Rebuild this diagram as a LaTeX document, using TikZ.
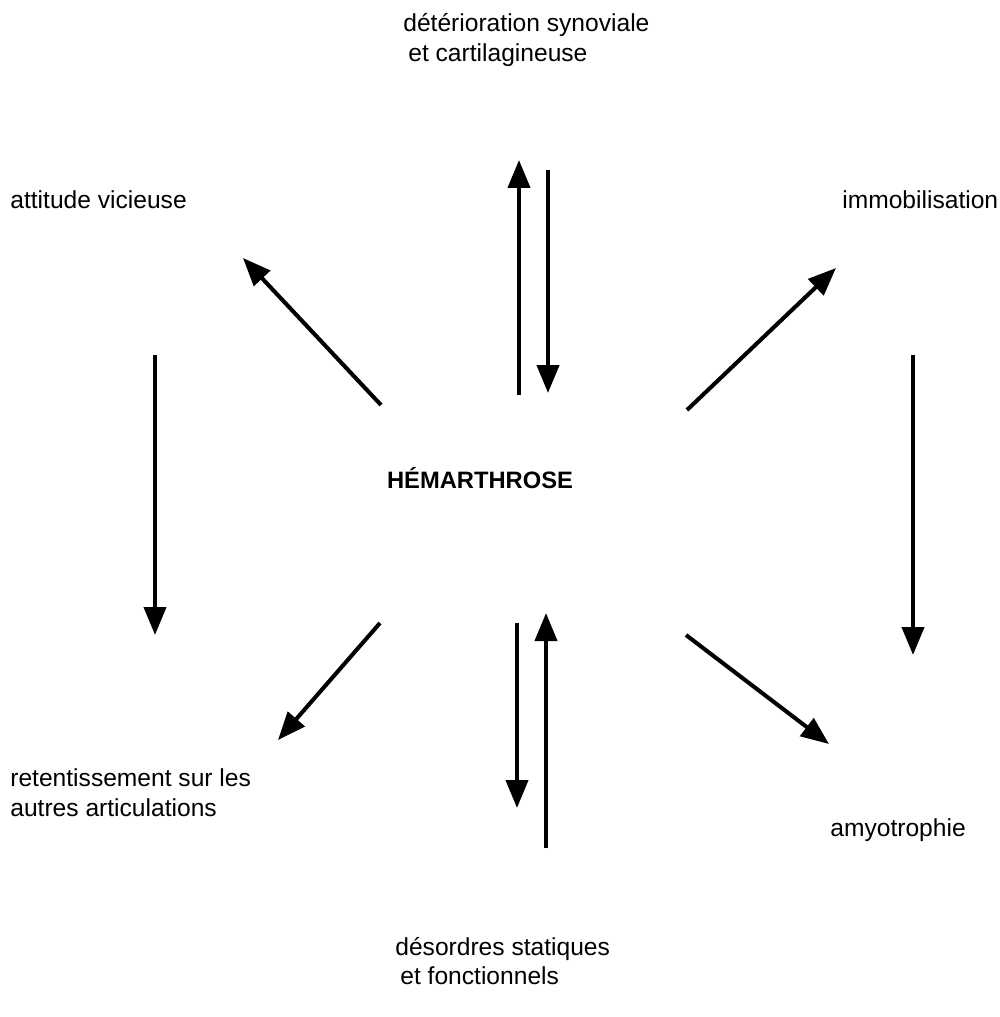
\documentclass[tikz,border=0pt]{standalone}
\usepackage{fontspec}
\setmainfont{Liberation Sans}
\usetikzlibrary{arrows.meta, positioning}

\begin{document}
\begin{tikzpicture}[
  x=0.02cm, y=-0.02cm,
  txt/.style={inner sep=0pt, anchor=west, align=left, font=\fontsize{14}{17}\selectfont},
  centre/.style={inner sep=0pt, font=\fontsize{13.5}{16}\selectfont\bfseries},
  arrow/.style={-{Triangle[length=0.56cm, width=0.44cm]}, line width=2.3pt},
]
  \useasboundingbox (0,0) rectangle (1000,1017);

  % labels
  \node[centre] (hem) at (480,478) {HÉMARTHROSE};
  \node[txt] (deter) at (403,40) {détérioration synoviale\\\hspace{0.1cm}et cartilagineuse};
  \node[txt] (attit) at (10,200) {attitude vicieuse};
  \node[txt] (immob) at (842,200) {immobilisation};
  \node[txt] (reten) at (10,793) {retentissement sur les\\autres articulations};
  \node[txt] (amyo) at (830,830) {amyotrophie};
  \node[txt] (desor) at (395,961) {désordres statiques\\\hspace{0.1cm}et fonctionnels};

  % arrow ends
  \coordinate (n1) at (519,395);  \coordinate (n1e) at (519,160);
  \coordinate (n2) at (548,170);  \coordinate (n2e) at (548,393);
  \coordinate (nw) at (381,405);  \coordinate (nwe) at (243,258);
  \coordinate (ne) at (687,410);  \coordinate (nee) at (836,268);
  \coordinate (w1) at (155,355);  \coordinate (w1e) at (155,635);
  \coordinate (e1) at (913,355);  \coordinate (e1e) at (913,655);
  \coordinate (sw) at (380,623);  \coordinate (swe) at (278,740);
  \coordinate (se) at (686,635);  \coordinate (see) at (829,744);
  \coordinate (s1) at (517,623);  \coordinate (s1e) at (517,808);
  \coordinate (s2) at (546,848);  \coordinate (s2e) at (546,613);

  \draw[arrow] (n1) -- (n1e);
  \draw[arrow] (n2) -- (n2e);
  \draw[arrow] (nw) -- (nwe);
  \draw[arrow] (ne) -- (nee);
  \draw[arrow] (w1) -- (w1e);
  \draw[arrow] (e1) -- (e1e);
  \draw[arrow] (sw) -- (swe);
  \draw[arrow] (se) -- (see);
  \draw[arrow] (s1) -- (s1e);
  \draw[arrow] (s2) -- (s2e);
\end{tikzpicture}
\end{document}
